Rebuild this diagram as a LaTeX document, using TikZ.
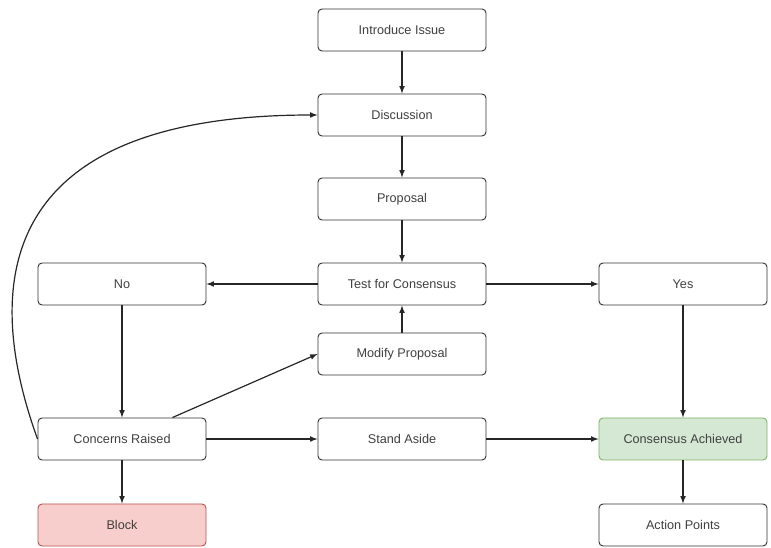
\documentclass[tikz,border=0pt]{standalone}
\usepackage{fontspec}
\setmainfont{Liberation Sans}
\usetikzlibrary{arrows}
\definecolor{blockfill}{HTML}{F8CECC}
\definecolor{blockline}{HTML}{B85450}
\definecolor{okfill}{HTML}{D5E8D4}
\definecolor{okline}{HTML}{82B366}
\begin{document}
\begin{tikzpicture}[x=0.75pt, y=-0.75pt,
	box/.style={draw=black!80, fill=white, line width=0.7pt, rounded corners=3pt, minimum width=126pt, minimum height=31.5pt, font=\fontsize{9.5}{11}\selectfont, text=black!75},
	flow/.style={-latex, draw=black!85, line width=0.9pt}]
	\useasboundingbox (0, 0) rectangle (771, 548);
	
	\node[box] (intro) at (402, 30) {Introduce Issue};
	\node[box] (disc) at (402, 115) {Discussion};
	\node[box] (prop) at (402, 199) {Proposal};
	\node[box] (test) at (402, 284) {Test for Consensus};
	\node[box] (modify) at (402, 354) {Modify Proposal};
	\node[box] (aside) at (402, 439) {Stand Aside};
	
	\node[box] (no) at (122, 284) {No};
	\node[box] (concerns) at (122, 439) {Concerns Raised};
	\node[box, fill=blockfill, draw=blockline] (block) at (122, 525) {Block};
	
	\node[box] (yes) at (683, 284) {Yes};
	\node[box, fill=okfill, draw=okline] (achieved) at (683, 439) {Consensus Achieved};
	\node[box] (actions) at (683, 525) {Action Points};
	
	\draw[flow] (intro) -- (disc);
	\draw[flow] (disc) -- (prop);
	\draw[flow] (prop) -- (test);
	\draw[flow] (test) -- (no);
	\draw[flow] (test) -- (yes);
	\draw[flow] (modify) -- (test);
	\draw[flow] (no) -- (concerns);
	\draw[flow] (yes) -- (achieved);
	\draw[flow] (achieved) -- (actions);
	\draw[flow] (concerns) -- (block);
	\draw[flow] (concerns) -- (aside);
	\draw[flow] (aside) -- (achieved);
	\draw[flow] (concerns.north east) ++(-34, 0) -- (modify.west);
	\draw[flow] (concerns.west) .. controls (-20, 280) and (0, 115) .. (disc.west);
\end{tikzpicture}
\end{document}
